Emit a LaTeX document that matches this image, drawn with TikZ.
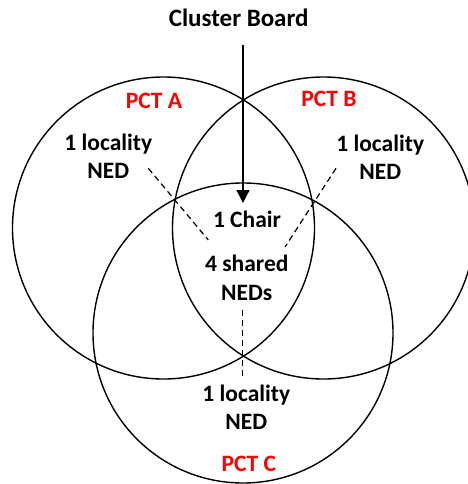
\documentclass[tikz,border=0pt]{standalone}
\usepackage{fontspec}
\setmainfont{Carlito}
\usetikzlibrary{arrows.meta}
\begin{document}
\begin{tikzpicture}[x=1pt,y=-1pt,
  ring/.style={draw=black, line width=1.4pt},
  lbl/.style={inner sep=0pt, anchor=base, align=center, font=\fontsize{23.5}{28.3}\selectfont\bfseries},
  pct/.style={lbl, text=red},
  ttl/.style={inner sep=0pt, anchor=base, font=\fontsize{25}{30}\selectfont\bfseries},
  dashline/.style={draw=black, line width=1.2pt, dash pattern=on 6pt off 4pt},
  arr/.style={draw=black, line width=1.4pt, -{Triangle[width=13pt,length=13pt]}}]
\useasboundingbox (0,0) rectangle (467,484);
% circle centres
\coordinate (A) at (163.5,228);
\coordinate (B) at (323.5,228);
\coordinate (C) at (243,333);
\draw[ring] (A) circle[radius=151pt];
\draw[ring] (B) circle[radius=151pt];
\draw[ring] (C) circle[radius=150pt];
% texts (anchor base = baseline of last line)
\node[ttl] (title) at (238.7,26.7) {Cluster Board};
\node[pct] (pcta) at (154,108.3) {PCT A};
\node[pct] (pctb) at (329,106.7) {PCT B};
\node[pct] (pctc) at (248.8,471.7) {PCT C};
\node[lbl] (neda) at (108.3,178.3) {1 locality\\NED};
\node[lbl] (nedb) at (380.2,179.3) {1 locality\\NED};
\node[lbl] (nedc) at (246.3,429.3) {1 locality\\NED};
\node[lbl] (chair) at (247,227.3) {1 Chair};
\node[lbl] (shared) at (246.8,300) {4 shared\\NEDs};
% connectors
\coordinate (arrtop) at (243,45);
\coordinate (arrtip) at (243,203);
\draw[arr] (arrtop) -- (arrtip);
\coordinate (da1) at (148.3,168.3);
\coordinate (da2) at (208.3,240);
\draw[dashline] (da1) -- (da2);
\coordinate (db1) at (336,168.3);
\coordinate (db2) at (285,247);
\draw[dashline] (db1) -- (db2);
\coordinate (dc1) at (242.7,310);
\coordinate (dc2) at (242.7,378.3);
\draw[dashline] (dc1) -- (dc2);
\end{tikzpicture}
\end{document}
